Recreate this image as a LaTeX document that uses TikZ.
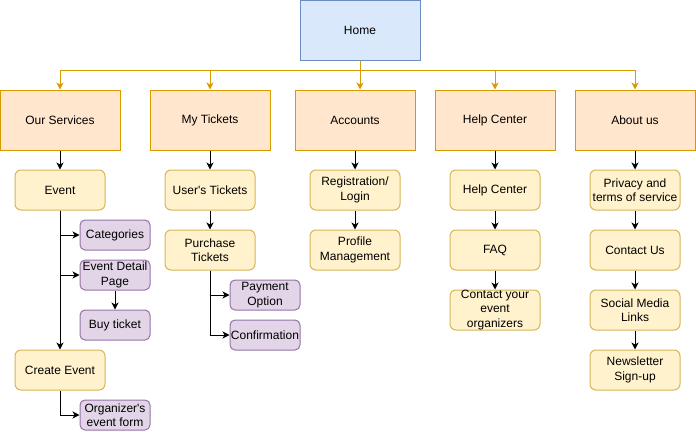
\documentclass[tikz,border=0pt]{standalone}
\usepackage{fontspec}
\setmainfont{Liberation Sans}[Ligatures=TeXOff]
\usetikzlibrary{arrows.meta}
\definecolor{bfill}{HTML}{DAE8FC}\definecolor{bline}{HTML}{6C8EBF}
\definecolor{ofill}{HTML}{FFE6CC}\definecolor{oline}{HTML}{D79B00}
\definecolor{yfill}{HTML}{FFF2CC}\definecolor{yline}{HTML}{D6B656}
\definecolor{pfill}{HTML}{E1D5E7}\definecolor{pline}{HTML}{9673A6}
\begin{document}
\begin{tikzpicture}[x=1pt,y=-1pt,
  every node/.style={font=\fontsize{12pt}{14.5pt}\selectfont, align=center, inner sep=0pt, line width=1pt},
  homebox/.style={draw=bline, fill=bfill, minimum width=120pt, minimum height=60pt},
  topbox/.style={draw=oline, fill=ofill, minimum width=120pt, minimum height=60pt},
  subbox/.style={draw=yline, fill=yfill, rounded corners=6pt, minimum width=90pt, minimum height=40pt},
  leafbox/.style={draw=pline, fill=pfill, rounded corners=5pt, minimum width=70pt, minimum height=30pt},
  oarrow/.style={draw=oline, line width=1pt, -{Stealth[length=7pt,width=7pt,inset=2pt,fill=oline]}},
  karrow/.style={draw=black, line width=1pt, -{Stealth[length=7pt,width=7pt,inset=2pt]}}
]
\useasboundingbox (0,0) rectangle (696,431);
\node[homebox] (home) at (360,30) {Home};
\coordinate (bus) at (360,70);

\node[topbox] (svc) at (60,120) {Our Services};
\node[topbox] (mt) at (210,120) {My Tickets};
\node[topbox] (acc) at (355,120) {Accounts};
\node[topbox] (hc) at (495,120) {Help Center};
\node[topbox] (about) at (635,120) {About us};

\node[subbox] (event) at (60,190) {Event};
\node[subbox] (create) at (60,370) {Create Event};
\node[leafbox] (cat) at (115,235) {Categories};
\node[leafbox] (edp) at (115,275) {Event Detail\\Page};
\node[leafbox] (buy) at (115,325) {Buy ticket};
\node[leafbox] (org) at (115,415) {Organizer's\\event form};

\node[subbox] (ut) at (210,190) {User's Tickets};
\node[subbox] (pt) at (210,250) {Purchase\\Tickets};
\node[leafbox] (pay) at (265,295) {Payment\\Option};
\node[leafbox] (conf) at (265,335) {Confirmation};

\node[subbox] (reg) at (355,190) {Registration/\\Login};
\node[subbox] (prof) at (355,250) {Profile\\Management};

\node[subbox] (hc2) at (495,190) {Help Center};
\node[subbox] (faq) at (495,250) {FAQ};
\node[subbox] (cyo) at (495,310) {Contact your\\event\\organizers};

\node[subbox] (priv) at (635,190) {Privacy and\\terms of service};
\node[subbox] (cu) at (635,250) {Contact Us};
\node[subbox] (sml) at (635,310) {Social Media\\Links};
\node[subbox] (nl) at (635,370) {Newsletter\\Sign-up};

\draw[oarrow] (home.south) -- (bus) -| (svc.north);
\draw[oarrow] (home.south) -- (bus) -| (mt.north);
\draw[oarrow] (home.south) -- (home.south |- acc.north);
\draw[oarrow] (home.south) -- (bus) -| (hc.north);
\draw[oarrow] (home.south) -- (bus) -| (about.north);

\draw[karrow] (svc) -- (event);
\draw[karrow] (event) -- (create);
\draw[karrow] (event.south) |- (cat.west);
\draw[karrow] (event.south) |- (edp.west);
\draw[karrow] (edp) -- (buy);
\draw[karrow] (create.south) |- (org.west);

\draw[karrow] (mt) -- (ut);
\draw[karrow] (ut) -- (pt);
\draw[karrow] (pt.south) |- (pay.west);
\draw[karrow] (pt.south) |- (conf.west);

\draw[karrow] (acc) -- (reg);
\draw[karrow] (reg) -- (prof);

\draw[karrow] (hc) -- (hc2);
\draw[karrow] (hc2) -- (faq);
\draw[karrow] (faq) -- (cyo);

\draw[karrow] (about) -- (priv);
\draw[karrow] (priv) -- (cu);
\draw[karrow] (cu) -- (sml);
\draw[karrow] (sml) -- (nl);
\end{tikzpicture}
\end{document}
